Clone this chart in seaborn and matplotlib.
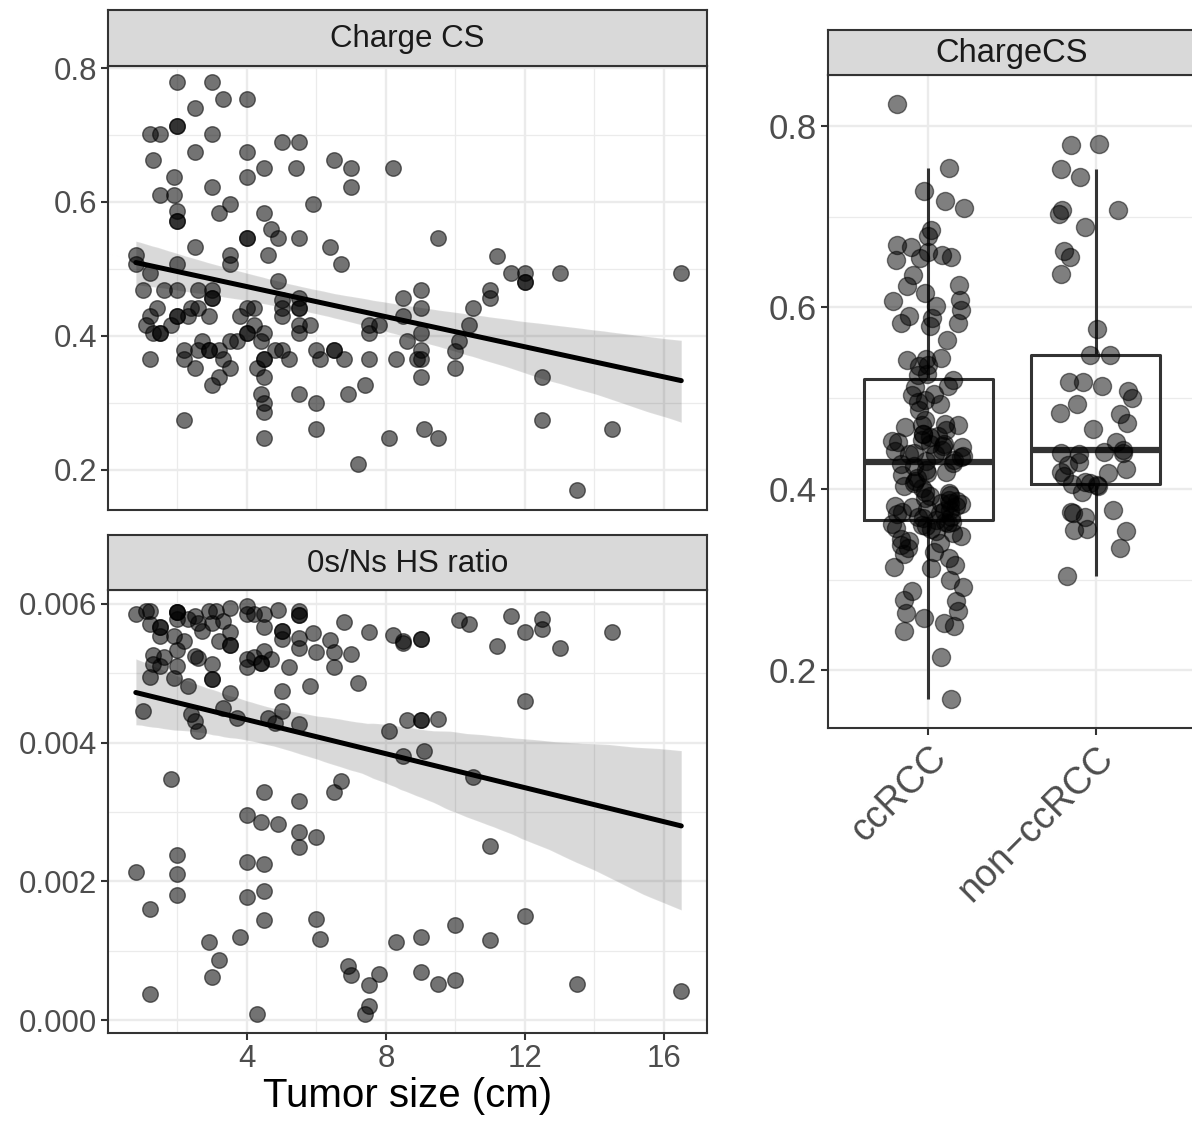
import numpy as np
import pandas as pd
import matplotlib
matplotlib.use("Agg")
import matplotlib.pyplot as plt
from matplotlib.ticker import FixedLocator, StrMethodFormatter
import seaborn as sns

# Charge CS vs tumor size (top left facet)
cs_size = [2.0, 3.0, 3.3, 4.0, 2.5, 2.0, 2.0, 1.2, 1.5, 3.0,
           1.3, 2.5, 4.0, 5.0, 5.5, 4.5, 5.4, 6.5, 7.0, 8.2,
           7.0, 1.9, 4.0, 3.0, 1.5, 1.9, 3.5, 3.2, 2.0, 2.0,
           2.0, 4.5, 5.9, 4.7, 4.9, 4.0, 4.0, 5.5, 2.5, 6.4,
           6.7, 3.5, 3.5, 4.6, 0.8, 0.8, 2.0, 1.2, 4.9, 1.0,
           1.6, 2.0, 2.6, 3.0, 3.0, 3.0, 1.4, 2.4, 2.6, 4.0,
           4.2, 5.0, 5.0, 5.5, 5.5, 5.5, 1.2, 2.0, 2.0, 2.3,
           2.9, 3.8, 5.0, 1.1, 1.8, 4.2, 5.5, 5.8, 7.5, 7.8,
           1.3, 1.5, 1.5, 4.0, 4.0, 4.5, 5.5, 7.5, 2.7, 3.5,
           3.7, 4.4, 2.2, 2.6, 2.9, 2.9, 3.2, 4.8, 5.0, 6.0,
           6.5, 6.5, 1.2, 2.2, 3.3, 4.5, 4.5, 5.2, 6.1, 6.8,
           7.5, 8.3, 2.5, 3.5, 4.3, 3.2, 4.5, 3.0, 7.4, 4.4,
           5.5, 6.9, 4.5, 6.0, 4.5, 2.2, 6.0, 4.5, 8.1, 7.2,
           8.5, 8.5, 8.6, 8.9, 9.0, 9.0, 9.0, 9.0, 9.0, 9.0,
           9.5, 9.1, 9.5, 11.2, 11.6, 12.0, 12.0, 12.0, 13.0, 16.5,
           11.0, 11.0, 10.5, 10.4, 10.1, 10.0, 10.0, 12.5, 12.5, 14.5,
           13.5]
cs_value = [0.779, 0.779, 0.753, 0.753, 0.740, 0.714, 0.714, 0.701, 0.701, 0.701,
            0.663, 0.675, 0.675, 0.689, 0.689, 0.650, 0.650, 0.663, 0.650, 0.650,
            0.623, 0.637, 0.637, 0.623, 0.610, 0.610, 0.597, 0.584, 0.586, 0.572,
            0.572, 0.584, 0.597, 0.559, 0.546, 0.546, 0.546, 0.546, 0.533, 0.533,
            0.507, 0.521, 0.507, 0.521, 0.521, 0.507, 0.507, 0.494, 0.482, 0.469,
            0.469, 0.469, 0.469, 0.469, 0.456, 0.456, 0.442, 0.442, 0.442, 0.442,
            0.442, 0.454, 0.442, 0.456, 0.442, 0.442, 0.430, 0.430, 0.430, 0.430,
            0.430, 0.430, 0.430, 0.416, 0.416, 0.416, 0.416, 0.416, 0.416, 0.416,
            0.404, 0.404, 0.404, 0.404, 0.404, 0.404, 0.404, 0.404, 0.392, 0.392,
            0.392, 0.392, 0.379, 0.379, 0.379, 0.379, 0.379, 0.379, 0.379, 0.379,
            0.379, 0.379, 0.365, 0.365, 0.365, 0.365, 0.365, 0.365, 0.365, 0.365,
            0.365, 0.365, 0.352, 0.352, 0.352, 0.339, 0.339, 0.326, 0.326, 0.313,
            0.313, 0.313, 0.300, 0.300, 0.287, 0.274, 0.261, 0.248, 0.248, 0.209,
            0.456, 0.430, 0.392, 0.365, 0.469, 0.442, 0.404, 0.379, 0.365, 0.339,
            0.546, 0.261, 0.248, 0.520, 0.494, 0.494, 0.481, 0.481, 0.494, 0.494,
            0.469, 0.456, 0.442, 0.416, 0.392, 0.378, 0.352, 0.339, 0.274, 0.261,
            0.170]

# 0s/Ns HS ratio vs tumor size (bottom left facet)
hs_size = [0.8, 1.1, 1.2, 1.2, 1.5, 1.5, 1.5, 2.0, 2.0, 2.0,
           2.0, 2.3, 2.5, 2.6, 2.7, 2.9, 3.1, 3.0, 3.3, 3.5,
           3.5, 3.5, 3.5, 3.2, 2.2, 1.9, 2.0, 1.3, 1.6, 1.3,
           1.5, 2.0, 1.2, 1.9, 2.3, 2.5, 2.6, 3.0, 3.0, 3.0,
           1.0, 3.5, 3.3, 2.4, 2.5, 2.6, 3.7, 4.0, 4.0, 4.2,
           4.5, 4.5, 4.9, 5.0, 5.0, 5.0, 5.5, 5.5, 5.5, 5.5,
           5.5, 5.9, 6.4, 6.8, 6.5, 6.5, 6.0, 7.0, 7.5, 8.2,
           8.5, 8.5, 4.0, 4.0, 4.2, 4.4, 4.4, 4.5, 4.7, 5.2,
           5.0, 5.8, 7.2, 4.6, 4.8, 5.0, 5.5, 8.1, 8.5, 1.8,
           4.5, 5.5, 6.5, 6.7, 4.0, 4.4, 4.9, 5.5, 5.5, 6.0,
           2.0, 0.8, 2.0, 2.0, 4.0, 4.5, 4.0, 4.5, 1.2, 4.5,
           6.0, 6.1, 3.8, 2.9, 3.2, 3.0, 1.2, 4.3, 6.9, 7.0,
           7.8, 7.5, 7.5, 7.4, 8.3, 9.0, 9.0, 10.1, 10.4, 11.6,
           12.5, 12.5, 12.0, 11.2, 13.0, 14.5, 12.0, 8.6, 9.0, 9.0,
           9.5, 9.1, 10.5, 11.0, 12.0, 10.0, 9.0, 11.0, 9.0, 9.5,
           10.0, 13.5, 16.5]
hs_ratio = [0.00585, 0.00590, 0.00590, 0.00571, 0.00567, 0.00567, 0.00553, 0.00588, 0.00588, 0.00588,
            0.00578, 0.00578, 0.00583, 0.00573, 0.00561, 0.00590, 0.00590, 0.00572, 0.00576, 0.00594,
            0.00559, 0.00541, 0.00541, 0.00546, 0.00546, 0.00553, 0.00533, 0.00526, 0.00523, 0.00514,
            0.00511, 0.00511, 0.00495, 0.00493, 0.00482, 0.00525, 0.00522, 0.00513, 0.00491, 0.00491,
            0.00445, 0.00471, 0.00450, 0.00441, 0.00431, 0.00416, 0.00436, 0.00597, 0.00586, 0.00586,
            0.00586, 0.00567, 0.00591, 0.00561, 0.00561, 0.00549, 0.00590, 0.00584, 0.00584, 0.00551,
            0.00537, 0.00558, 0.00548, 0.00574, 0.00530, 0.00509, 0.00530, 0.00528, 0.00559, 0.00555,
            0.00546, 0.00544, 0.00520, 0.00509, 0.00524, 0.00515, 0.00515, 0.00532, 0.00521, 0.00509,
            0.00474, 0.00481, 0.00486, 0.00436, 0.00428, 0.00445, 0.00427, 0.00417, 0.00380, 0.00348,
            0.00329, 0.00316, 0.00329, 0.00344, 0.00296, 0.00286, 0.00283, 0.00271, 0.00250, 0.00264,
            0.00238, 0.00214, 0.00211, 0.00180, 0.00228, 0.00225, 0.00178, 0.00186, 0.00160, 0.00144,
            0.00146, 0.00117, 0.00119, 0.00112, 0.00087, 0.00062, 0.00038, 0.00009, 0.00078, 0.00065,
            0.00067, 0.00051, 0.00020, 0.00009, 0.00112, 0.00549, 0.00549, 0.00577, 0.00571, 0.00582,
            0.00578, 0.00564, 0.00560, 0.00539, 0.00536, 0.00559, 0.00460, 0.00432, 0.00432, 0.00432,
            0.00434, 0.00388, 0.00351, 0.00251, 0.00150, 0.00137, 0.00119, 0.00116, 0.00069, 0.00052,
            0.00057, 0.00052, 0.00042]

# ChargeCS by tumour type (right panel)
types = ["ccRCC", "non\u2212ccRCC"]
cc_values = [0.824, 0.753, 0.728, 0.717, 0.710, 0.685, 0.679, 0.669, 0.666, 0.661,
             0.658, 0.656, 0.654, 0.652, 0.636, 0.625, 0.623, 0.616, 0.608, 0.607,
             0.601, 0.597, 0.590, 0.588, 0.583, 0.583, 0.579, 0.564, 0.544, 0.543,
             0.542, 0.537, 0.535, 0.527, 0.526, 0.520, 0.513, 0.512, 0.505, 0.504,
             0.498, 0.496, 0.493, 0.487, 0.476, 0.471, 0.470, 0.470, 0.468, 0.465,
             0.461, 0.460, 0.458, 0.457, 0.454, 0.453, 0.452, 0.450, 0.449, 0.447,
             0.446, 0.443, 0.442, 0.440, 0.439, 0.438, 0.436, 0.435, 0.432, 0.431,
             0.428, 0.427, 0.425, 0.421, 0.419, 0.417, 0.415, 0.412, 0.409, 0.406,
             0.403, 0.401, 0.397, 0.395, 0.393, 0.392, 0.390, 0.388, 0.387, 0.385,
             0.384, 0.383, 0.381, 0.381, 0.380, 0.378, 0.377, 0.376, 0.375, 0.373,
             0.372, 0.369, 0.369, 0.368, 0.366, 0.364, 0.363, 0.362, 0.361, 0.360,
             0.359, 0.357, 0.356, 0.354, 0.351, 0.348, 0.345, 0.343, 0.340, 0.338,
             0.335, 0.331, 0.328, 0.324, 0.316, 0.314, 0.313, 0.300, 0.292, 0.287,
             0.278, 0.277, 0.265, 0.263, 0.258, 0.252, 0.249, 0.244, 0.215, 0.169]
noncc_values = [0.780, 0.779, 0.752, 0.744, 0.707, 0.707, 0.703, 0.689, 0.662, 0.656,
                0.637, 0.576, 0.547, 0.547, 0.518, 0.518, 0.513, 0.508, 0.500, 0.494,
                0.484, 0.482, 0.473, 0.466, 0.452, 0.443, 0.441, 0.440, 0.440, 0.438,
                0.430, 0.426, 0.422, 0.419, 0.417, 0.414, 0.408, 0.406, 0.405, 0.404,
                0.403, 0.397, 0.377, 0.375, 0.374, 0.369, 0.356, 0.355, 0.354, 0.335,
                0.304]

df_cs = pd.DataFrame({"size": cs_size, "value": cs_value})
df_hs = pd.DataFrame({"size": hs_size, "value": hs_ratio})
df_box = pd.DataFrame({
    "type": [types[0]] * len(cc_values) + [types[1]] * len(noncc_values),
    "value": cc_values + noncc_values,
})

sns.set_style("white")
plt.rcParams["font.family"] = ["Liberation Sans", "DejaVu Sans"]

W, H = 1192, 1126
fig = plt.figure(figsize=(W / 100, H / 100), dpi=100)


def rect(l, t, r, b):
    return [l / W, 1 - b / H, (r - l) / W, (b - t) / H]


dark = "#333333"
grid_c = "#ebebeb"


def style_axes(ax, tick_size):
    ax.set_facecolor("white")
    for s in ax.spines.values():
        s.set_color(dark)
        s.set_linewidth(1.5)
        s.set_visible(True)
    ax.grid(which="major", color=grid_c, lw=1.7, zorder=0)
    ax.grid(which="minor", color=grid_c, lw=0.9, zorder=0)
    ax.set_axisbelow(True)
    ax.tick_params(which="major", direction="out", length=5, width=1.5, color=dark,
                   labelsize=tick_size, labelcolor="#4d4d4d", left=True, bottom=True,
                   pad=3)
    ax.tick_params(which="minor", length=0)
    ax.set_xlabel("")
    ax.set_ylabel("")


def strip(r, label, size):
    sax = fig.add_axes(rect(*r))
    sax.set_facecolor("#d9d9d9")
    sax.set_xticks([])
    sax.set_yticks([])
    for s in sax.spines.values():
        s.set_color(dark)
        s.set_linewidth(1.5)
    sax.text(0.5, 0.48, label, ha="center", va="center", fontsize=size,
             color="#1a1a1a", transform=sax.transAxes)


def scatter_panel(ax, df):
    sns.scatterplot(data=df, x="size", y="value", s=125, color="black", alpha=0.55,
                    edgecolor="black", linewidth=1.0, ax=ax, zorder=2)
    sns.regplot(data=df, x="size", y="value", scatter=False, color="black", ci=95,
                seed=1, line_kws={"lw": 3.6, "zorder": 4}, ax=ax)
    ax.set_xlim(0, 17.24)
    ax.xaxis.set_major_locator(FixedLocator([4, 8, 12, 16]))
    ax.xaxis.set_minor_locator(FixedLocator([2, 6, 10, 14]))


# top left
ax1 = fig.add_axes(rect(108, 66, 707, 510))
scatter_panel(ax1, df_cs)
ax1.set_ylim(0.140, 0.803)
ax1.yaxis.set_major_locator(FixedLocator([0.2, 0.4, 0.6, 0.8]))
ax1.yaxis.set_minor_locator(FixedLocator([0.3, 0.5, 0.7]))
ax1.yaxis.set_major_formatter(StrMethodFormatter("{x:.1f}"))
style_axes(ax1, 22.5)
ax1.tick_params(axis="x", which="both", bottom=False, labelbottom=False)
strip((108, 10, 707, 66), "Charge CS", 22.5)

# bottom left
ax2 = fig.add_axes(rect(108, 590, 707, 1033))
scatter_panel(ax2, df_hs)
ax2.set_ylim(-0.000187, 0.0062)
ax2.yaxis.set_major_locator(FixedLocator([0, 0.002, 0.004, 0.006]))
ax2.yaxis.set_minor_locator(FixedLocator([0.001, 0.003, 0.005]))
ax2.yaxis.set_major_formatter(StrMethodFormatter("{x:.3f}"))
style_axes(ax2, 22.5)
ax2.set_xlabel("Tumor size (cm)", fontsize=29, color="black", labelpad=2)
strip((108, 535, 707, 590), "0s/Ns HS ratio", 22.5)

# right panel
ax3 = fig.add_axes(rect(828, 75, 1196, 728))
np.random.seed(7)
sns.boxplot(data=df_box, x="type", y="value", order=types, width=0.77,
            showfliers=False, showcaps=False, fill=False, color=dark,
            linewidth=2.2, medianprops={"linewidth": 4.5}, ax=ax3)
sns.stripplot(data=df_box, x="type", y="value", order=types, jitter=0.22,
              size=13, color="black", alpha=0.5, linewidth=1.0,
              edgecolor="black", ax=ax3, zorder=3)
ax3.set_xlim(-0.6, 1.6)
ax3.set_ylim(0.1366, 0.856)
ax3.yaxis.set_major_locator(FixedLocator([0.2, 0.4, 0.6, 0.8]))
ax3.yaxis.set_minor_locator(FixedLocator([0.3, 0.5, 0.7]))
ax3.yaxis.set_major_formatter(StrMethodFormatter("{x:.1f}"))
style_axes(ax3, 25)
ax3.tick_params(axis="x", labelsize=27)
ax3.grid(which="major", axis="x", color=grid_c, lw=1.7)
for lab in ax3.get_xticklabels():
    lab.set_rotation(45)
    lab.set_ha("right")
    lab.set_va("top")
    lab.set_rotation_mode("anchor")
strip((828, 30, 1196, 75), "ChargeCS", 23.5)

fig.savefig("out.png", dpi=100, facecolor="white")
